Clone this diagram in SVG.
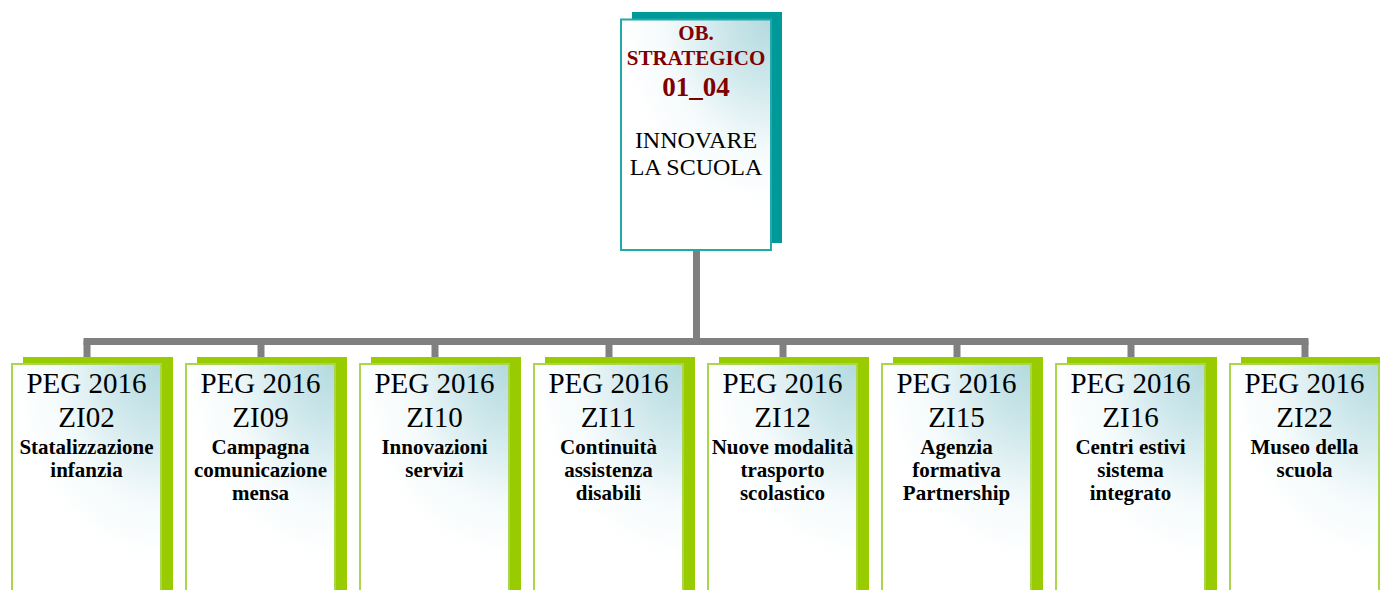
<svg xmlns="http://www.w3.org/2000/svg" width="1380" height="590" viewBox="0 0 1380 590">
<style>
.peg{font-family:"Liberation Serif","Times New Roman",serif;font-size:29px;fill:#000;text-anchor:middle}
.lbl{font-family:"Liberation Serif","Times New Roman",serif;font-size:21px;font-weight:bold;fill:#000;text-anchor:middle}
.ob{font-family:"Liberation Serif","Times New Roman",serif;font-weight:bold;fill:#800000;text-anchor:middle}
.top{font-family:"Liberation Serif","Times New Roman",serif;font-size:24px;fill:#000;text-anchor:middle}
.gsh{fill:#99cc00}
.gfr{fill:url(#grad);stroke:#a9d64a;stroke-width:2}
.conn{stroke:#808080;stroke-width:7;fill:none}
</style>
<defs>
<radialGradient id="grad" cx="1" cy="0" r="1" fx="1" fy="0" gradientTransform="translate(1,0) scale(1,0.75) translate(-1,0)">
<stop offset="0" stop-color="#b3dade"/>
<stop offset="0.35" stop-color="#cfe8ec"/>
<stop offset="0.7" stop-color="#f4fafb"/>
<stop offset="1" stop-color="#ffffff"/>
</radialGradient>
<radialGradient id="gradTop" cx="1" cy="0" r="1" fx="1" fy="0" gradientTransform="translate(1,0) scale(1,0.8) translate(-1,0)">
<stop offset="0" stop-color="#b3dade"/>
<stop offset="0.35" stop-color="#cfe8ec"/>
<stop offset="0.7" stop-color="#f4fafb"/>
<stop offset="1" stop-color="#ffffff"/>
</radialGradient>
</defs>

<g id="connectors">
<line class="conn" x1="696.5" y1="250" x2="696.5" y2="341.5"/>
<line class="conn" x1="83.5" y1="341.5" x2="1308.5" y2="341.5"/>
<line class="conn" x1="87" y1="341.5" x2="87" y2="358"/>
<line class="conn" x1="261" y1="341.5" x2="261" y2="358"/>
<line class="conn" x1="435" y1="341.5" x2="435" y2="358"/>
<line class="conn" x1="609" y1="341.5" x2="609" y2="358"/>
<line class="conn" x1="783" y1="341.5" x2="783" y2="358"/>
<line class="conn" x1="957" y1="341.5" x2="957" y2="358"/>
<line class="conn" x1="1131" y1="341.5" x2="1131" y2="358"/>
<line class="conn" x1="1305" y1="341.5" x2="1305" y2="358"/>
</g>

<g id="top-node">
<rect x="632" y="12" width="150" height="231" fill="#009999"/>
<rect x="621" y="19.5" width="150" height="230.5" fill="url(#gradTop)" stroke="#22aaaa" stroke-width="2"/>
<text class="ob" x="696" y="40" font-size="21">OB.</text>
<text class="ob" x="696" y="65" font-size="21">STRATEGICO</text>
<text class="ob" x="696" y="96" font-size="27">01_04</text>
<text class="top" x="696" y="148">INNOVARE</text>
<text class="top" x="696" y="175">LA SCUOLA</text>
</g>

<g id="node-zi02">
<rect class="gsh" x="23" y="357" width="150" height="260"/>
<rect class="gfr" x="12" y="364" width="149" height="260"/>
<text class="peg" x="86.5" y="393">PEG 2016</text>
<text class="peg" x="86.5" y="427">ZI02</text>
<text class="lbl" x="86.5" y="454">Statalizzazione</text>
<text class="lbl" x="86.5" y="477">infanzia</text>
</g>

<g id="node-zi09">
<rect class="gsh" x="197" y="357" width="150" height="260"/>
<rect class="gfr" x="186" y="364" width="149" height="260"/>
<text class="peg" x="260.5" y="393">PEG 2016</text>
<text class="peg" x="260.5" y="427">ZI09</text>
<text class="lbl" x="260.5" y="454">Campagna</text>
<text class="lbl" x="260.5" y="477">comunicazione</text>
<text class="lbl" x="260.5" y="500">mensa</text>
</g>

<g id="node-zi10">
<rect class="gsh" x="371" y="357" width="150" height="260"/>
<rect class="gfr" x="360" y="364" width="149" height="260"/>
<text class="peg" x="434.5" y="393">PEG 2016</text>
<text class="peg" x="434.5" y="427">ZI10</text>
<text class="lbl" x="434.5" y="454">Innovazioni</text>
<text class="lbl" x="434.5" y="477">servizi</text>
</g>

<g id="node-zi11">
<rect class="gsh" x="545" y="357" width="150" height="260"/>
<rect class="gfr" x="534" y="364" width="149" height="260"/>
<text class="peg" x="608.5" y="393">PEG 2016</text>
<text class="peg" x="608.5" y="427">ZI11</text>
<text class="lbl" x="608.5" y="454">Continuità</text>
<text class="lbl" x="608.5" y="477">assistenza</text>
<text class="lbl" x="608.5" y="500">disabili</text>
</g>

<g id="node-zi12">
<rect class="gsh" x="719" y="357" width="150" height="260"/>
<rect class="gfr" x="708" y="364" width="149" height="260"/>
<text class="peg" x="782.5" y="393">PEG 2016</text>
<text class="peg" x="782.5" y="427">ZI12</text>
<text class="lbl" x="782.5" y="454">Nuove modalità</text>
<text class="lbl" x="782.5" y="477">trasporto</text>
<text class="lbl" x="782.5" y="500">scolastico</text>
</g>

<g id="node-zi15">
<rect class="gsh" x="893" y="357" width="150" height="260"/>
<rect class="gfr" x="882" y="364" width="149" height="260"/>
<text class="peg" x="956.5" y="393">PEG 2016</text>
<text class="peg" x="956.5" y="427">ZI15</text>
<text class="lbl" x="956.5" y="454">Agenzia</text>
<text class="lbl" x="956.5" y="477">formativa</text>
<text class="lbl" x="956.5" y="500">Partnership</text>
</g>

<g id="node-zi16">
<rect class="gsh" x="1067" y="357" width="150" height="260"/>
<rect class="gfr" x="1056" y="364" width="149" height="260"/>
<text class="peg" x="1130.5" y="393">PEG 2016</text>
<text class="peg" x="1130.5" y="427">ZI16</text>
<text class="lbl" x="1130.5" y="454">Centri estivi</text>
<text class="lbl" x="1130.5" y="477">sistema</text>
<text class="lbl" x="1130.5" y="500">integrato</text>
</g>

<g id="node-zi22">
<rect class="gsh" x="1241" y="357" width="150" height="260"/>
<rect class="gfr" x="1230" y="364" width="149" height="260"/>
<text class="peg" x="1304.5" y="393">PEG 2016</text>
<text class="peg" x="1304.5" y="427">ZI22</text>
<text class="lbl" x="1304.5" y="454">Museo della</text>
<text class="lbl" x="1304.5" y="477">scuola</text>
</g>
</svg>
